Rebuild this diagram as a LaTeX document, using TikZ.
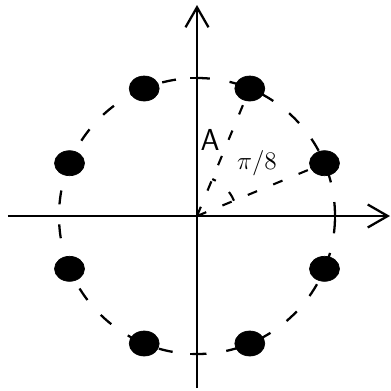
\documentclass[tikz,border=0pt]{standalone}
\usetikzlibrary{arrows.meta,shapes.geometric}
\begin{document}
\begin{tikzpicture}
                [x=0.02cm,y=0.02cm,
                axis/.style={line width=1.3pt,-{Straight Barb[length=0.4cm,width=0.46cm]}},
                ring/.style={line width=1.3pt,dash pattern=on 0.28cm off 0.4cm},
                radius line/.style={line width=1.2pt,dash pattern=on 0.2cm off 0.35cm},
                dot/.style={ellipse,draw=black,fill=black,inner sep=0pt,minimum width=0.6cm,minimum height=0.5cm},
                ]
                \useasboundingbox (-197,-174) rectangle (194,216);
                \coordinate (O) at (0,0);
                \coordinate (xl) at (-189,0);  \coordinate (xr) at (193,0);
                \coordinate (yb) at (0,-172);  \coordinate (yt) at (0,211);
                \draw[axis] (xl) -- (xr);
                \draw[axis] (yb) -- (yt);
                \draw[ring] (O) circle[radius=138];
                % ticks where the circle meets the axes
                \draw[line width=1.3pt] (-7,138) -- (5,138);
                \draw[line width=1.3pt] (-7,-138) -- (3,-138);
                \draw[line width=1.3pt] (138,-8) -- (138,8);
                \foreach \k in {1,...,8}
                    \node[dot] (p\k) at ({22.5+45*(\k-1)}:138) {};
                \draw[radius line] (O) -- (p1);
                \draw[radius line] (O) -- (p2);
                \draw[radius line] (22.5:40) arc[start angle=22.5,end angle=67.5,radius=40];
                \node (lblA) at (13,76) {\sffamily\LARGE A};
                \node (lblang) at (60,53) {\Large$\pi/8$};
            \end{tikzpicture}
\end{document}
